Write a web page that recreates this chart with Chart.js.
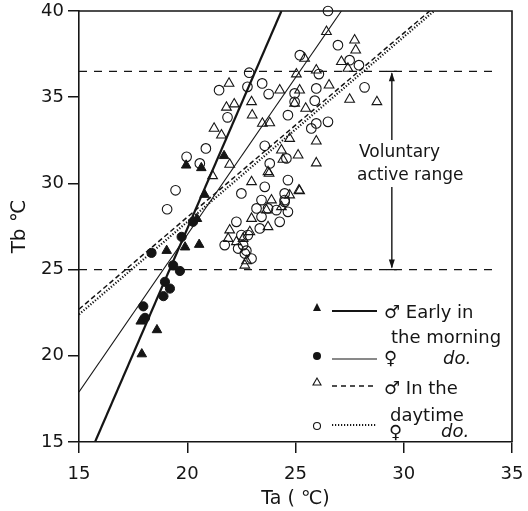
<!DOCTYPE html>
<html>
<head>
<meta charset="utf-8">
<script src="https://cdn.jsdelivr.net/npm/chart.js@4.4.0/dist/chart.umd.min.js"></script>
<style>
  html, body { margin: 0; padding: 0; background: #fff; }
</style>
</head>
<body>
<canvas id="tbChart" width="528" height="511"></canvas>
<script>
// Ta (air temp) / Tb (body temp) readings
const maleMornTa = [17.9, 18.6, 17.85, 19.05, 20.55, 19.9, 20.45, 19.95, 20.65, 21.7, 20.8];
const maleMornTb = [20.1, 21.5, 22.0, 26.1, 26.45, 26.3, 27.95, 31.05, 30.9, 31.6, 29.35];

const femMornTa = [17.97, 18.05, 18.9, 19.2, 18.97, 19.66, 19.35, 18.35, 19.74, 20.27];
const femMornTb = [22.87, 22.2, 23.46, 23.9, 24.29, 24.92, 25.25, 25.97, 26.9, 27.77];

const maleDayTa = [21.93, 24.27, 25.04, 21.81, 22.17, 22.97, 23.0, 24.96, 21.24, 21.58, 23.47, 23.81,
  21.96, 21.17, 22.97, 24.35, 24.73, 24.42, 23.73, 23.89, 26.43, 25.42, 27.73, 27.78, 27.12, 27.42,
  25.96, 26.55, 27.5, 28.76, 25.19, 25.47, 25.96, 25.96, 25.12, 25.19, 23.78, 25.16, 24.73, 23.66,
  24.35, 22.97, 23.73, 21.96, 22.89, 22.58, 21.89, 22.27, 22.66, 22.74];
const maleDayTb = [35.8, 35.41, 36.34, 34.41, 34.6, 34.73, 33.96, 34.64, 33.19, 32.8, 33.48, 33.51,
  31.1, 30.44, 30.09, 31.93, 32.6, 31.39, 30.67, 29.03, 38.8, 37.25, 38.31, 37.73, 37.06, 36.67,
  36.57, 35.7, 34.87, 34.73, 35.41, 34.35, 32.45, 31.18, 31.64, 29.57, 30.58, 29.6, 29.32, 28.45,
  28.64, 27.96, 27.48, 27.29, 27.19, 26.8, 26.8, 26.61, 25.25, 25.5];

const femDayTa = [22.86, 21.47, 22.78, 23.46, 23.76, 21.86, 24.65, 20.86, 19.97, 20.58, 19.46, 19.07,
  23.58, 22.5, 24.65, 25.2, 24.96, 23.43, 24.65, 24.5, 26.5, 26.96, 27.5, 27.93, 26.08, 25.96,
  28.19, 24.96, 25.89, 26.5, 25.96, 25.73, 24.5, 24.58, 23.81, 23.58, 24.5, 23.2, 23.73, 23.43,
  24.12, 24.27, 22.27, 23.35, 22.5, 22.8, 21.73, 22.58, 22.35, 22.73, 22.97, 22.66];
const femDayTb = [36.42, 35.41, 35.6, 35.8, 35.18, 33.83, 33.96, 32.03, 31.54, 31.16, 29.6, 28.5,
  32.18, 29.42, 30.19, 37.44, 35.22, 29.03, 28.35, 29.42, 40.0, 38.02, 37.15, 36.86, 36.34, 35.51,
  35.57, 34.73, 34.8, 33.57, 33.48, 33.19, 28.93, 31.45, 31.16, 29.8, 29.03, 28.55, 28.55, 28.06,
  28.45, 27.77, 27.77, 27.39, 27.0, 27.0, 26.42, 26.42, 26.22, 26.1, 25.64, 25.93];

// regression line end points [Ta, Tb]
const regMaleMorn = [[15.74, 15], [24.35, 40]];
const regFemMorn = [[15, 17.9], [27.12, 40]];
const regMaleDay = [[15, 22.7], [31.2, 40]];
const regFemDay = [[15, 22.4], [31.4, 40]];

// voluntary active range
const rangeLow = 25;
const rangeHigh = 36.5;
const rangeLineEnd = 34.4;
const rangeArrowTa = 29.45;

const xTicks = [15, 20, 25, 30, 35];
const yTicks = [15, 20, 25, 30, 35, 40];

const FONT = '"DejaVu Sans", sans-serif';
const INK = '#151515';

function pts(xs, ys) {
  return xs.map(function (x, i) { return { x: x, y: ys[i] }; });
}
function seg(p) {
  return p.map(function (d) { return { x: d[0], y: d[1] }; });
}

let framePlugin = {
  id: 'frame',
  afterDatasetsDraw: function (chart) {
    let ctx = chart.ctx, a = chart.chartArea;
    ctx.save();
    ctx.strokeStyle = INK;
    ctx.lineWidth = 1.6;
    ctx.beginPath();
    ctx.moveTo(a.left, a.top);
    ctx.lineTo(a.right, a.top);
    ctx.lineTo(a.right, a.bottom);
    ctx.stroke();
    ctx.restore();
  }
};

let notePlugin = {
  id: 'notes',
  afterDraw: function (chart) {
    let ctx = chart.ctx;
    let xs = chart.scales.x, ys = chart.scales.y;
    let ax = xs.getPixelForValue(rangeArrowTa);
    let yTop = ys.getPixelForValue(rangeHigh);
    let yBot = ys.getPixelForValue(rangeLow);
    ctx.save();
    ctx.strokeStyle = INK;
    ctx.fillStyle = INK;
    ctx.lineWidth = 1.4;
    // arrow shaft with a gap for the text
    ctx.beginPath();
    ctx.moveTo(ax, yTop + 2); ctx.lineTo(ax, 140);
    ctx.moveTo(ax, 187); ctx.lineTo(ax, yBot - 2);
    ctx.moveTo(ax - 5, yTop); ctx.lineTo(ax + 5, yTop);
    ctx.moveTo(ax - 5, yBot); ctx.lineTo(ax + 5, yBot);
    ctx.stroke();
    ctx.beginPath();
    ctx.moveTo(ax, yTop + 1); ctx.lineTo(ax - 3, yTop + 10); ctx.lineTo(ax + 3, yTop + 10);
    ctx.closePath(); ctx.fill();
    ctx.beginPath();
    ctx.moveTo(ax, yBot - 1); ctx.lineTo(ax - 3, yBot - 10); ctx.lineTo(ax + 3, yBot - 10);
    ctx.closePath(); ctx.fill();

    ctx.font = '17px ' + FONT;
    ctx.textBaseline = 'middle';
    ctx.textAlign = 'left';
    ctx.fillText('Voluntary', 359, 153);
    ctx.fillText('active range', 357, 176);

    // legend
    let mx = 317;
    ctx.lineWidth = 1.1;
    // filled triangle
    ctx.beginPath();
    ctx.moveTo(mx, 303); ctx.lineTo(mx - 4, 311); ctx.lineTo(mx + 4, 311); ctx.closePath(); ctx.fill();
    // filled circle
    ctx.beginPath(); ctx.arc(mx, 356, 4, 0, Math.PI * 2); ctx.fill();
    // open triangle
    ctx.beginPath();
    ctx.moveTo(mx, 378); ctx.lineTo(mx - 4, 385); ctx.lineTo(mx + 4, 385); ctx.closePath(); ctx.stroke();
    // open circle
    ctx.beginPath(); ctx.arc(mx, 426, 3.5, 0, Math.PI * 2); ctx.stroke();

    let samples = [
      { y: 311, dash: [], w: 1.8 },
      { y: 359, dash: [], w: 1.2 },
      { y: 386, dash: [5, 4], w: 1.4 },
      { y: 425, dash: [1.2, 1.8], w: 2 }
    ];
    samples.forEach(function (s) {
      ctx.setLineDash(s.dash);
      ctx.lineWidth = s.w;
      ctx.beginPath(); ctx.moveTo(332, s.y); ctx.lineTo(377, s.y); ctx.stroke();
    });
    ctx.setLineDash([]);

    ctx.font = '18px ' + FONT;
    ctx.fillText('\u2642 Early in', 384, 313);
    ctx.fillText('the morning', 391, 338);
    ctx.fillText('\u2640', 384, 359);
    ctx.fillText('\u2642 In the', 384, 389);
    ctx.fillText('daytime', 390, 416);
    ctx.fillText('\u2640', 389, 433);
    ctx.font = 'italic 18px ' + FONT;
    ctx.fillText('do.', 443, 359);
    ctx.fillText('do.', 441, 432);
    ctx.restore();
  }
};

let canvas = document.getElementById('tbChart');
let tbChart = new Chart(canvas, {
  type: 'scatter',
  data: {
    datasets: [
      {
        label: 'male early',
        data: pts(maleMornTa, maleMornTb),
        pointStyle: 'triangle', pointRadius: 5.5,
        backgroundColor: INK, borderColor: INK, borderWidth: 1,
        clip: false
      },
      {
        label: 'female early',
        data: pts(femMornTa, femMornTb),
        pointStyle: 'circle', pointRadius: 4.6,
        backgroundColor: INK, borderColor: INK, borderWidth: 1,
        clip: false
      },
      {
        label: 'male day',
        data: pts(maleDayTa, maleDayTb),
        pointStyle: 'triangle', pointRadius: 5.6,
        backgroundColor: 'rgba(0,0,0,0)', borderColor: INK, borderWidth: 1.1,
        clip: false
      },
      {
        label: 'female day',
        data: pts(femDayTa, femDayTb),
        pointStyle: 'circle', pointRadius: 4.8,
        backgroundColor: 'rgba(0,0,0,0)', borderColor: INK, borderWidth: 1.1,
        clip: false
      },
      {
        type: 'line', label: 'reg male early', data: seg(regMaleMorn),
        showLine: true, borderColor: INK, borderWidth: 2.2, pointRadius: 0, clip: 0
      },
      {
        type: 'line', label: 'reg female early', data: seg(regFemMorn),
        showLine: true, borderColor: INK, borderWidth: 1.1, pointRadius: 0, clip: 0
      },
      {
        type: 'line', label: 'reg male day', data: seg(regMaleDay),
        showLine: true, borderColor: INK, borderWidth: 1.5, borderDash: [5, 3], pointRadius: 0, clip: 0
      },
      {
        type: 'line', label: 'reg female day', data: seg(regFemDay),
        showLine: true, borderColor: INK, borderWidth: 2.2, borderDash: [1.2, 1.8], pointRadius: 0, clip: 0
      },
      {
        type: 'line', label: 'range high', data: [{ x: 15, y: rangeHigh }, { x: rangeLineEnd, y: rangeHigh }],
        showLine: true, borderColor: INK, borderWidth: 1.3, borderDash: [8, 7], pointRadius: 0
      },
      {
        type: 'line', label: 'range low', data: [{ x: 15, y: rangeLow }, { x: rangeLineEnd, y: rangeLow }],
        showLine: true, borderColor: INK, borderWidth: 1.3, borderDash: [8, 7], pointRadius: 0
      }
    ]
  },
  options: {
    responsive: false,
    animation: false,
    layout: { padding: { top: 11, right: 16, left: 0, bottom: 0 } },
    plugins: {
      legend: { display: false },
      tooltip: { enabled: false }
    },
    scales: {
      x: {
        type: 'linear',
        min: 15, max: 35,
        afterBuildTicks: function (s) { s.ticks = xTicks.map(function (v) { return { value: v }; }); },
        afterFit: function (s) { s.height = 69; s.paddingLeft = 0; s.paddingRight = 0; },
        ticks: { color: INK, font: { family: FONT, size: 18 }, padding: 11, maxRotation: 0 },
        grid: { drawOnChartArea: false, drawTicks: true, tickLength: 11, color: INK, lineWidth: 1.5 },
        border: { display: true, color: INK, width: 1.6 },
        title: { display: true, text: 'Ta ( \u2103)', color: INK, font: { family: FONT, size: 19 }, padding: { top: 0, bottom: 1 } }
      },
      y: {
        type: 'linear',
        min: 15, max: 40,
        afterBuildTicks: function (s) { s.ticks = yTicks.map(function (v) { return { value: v }; }); },
        afterFit: function (s) { s.width = 79; s.paddingTop = 0; s.paddingBottom = 0; },
        ticks: { color: INK, font: { family: FONT, size: 18 }, padding: 4 },
        grid: { drawOnChartArea: false, drawTicks: true, tickLength: 11, color: INK, lineWidth: 1.5 },
        border: { display: true, color: INK, width: 1.6 },
        title: { display: true, text: 'Tb \u2103', color: INK, font: { family: FONT, size: 20 }, padding: { top: 8, bottom: 0 } }
      }
    }
  },
  plugins: [framePlugin, notePlugin]
});
</script>
</body>
</html>
